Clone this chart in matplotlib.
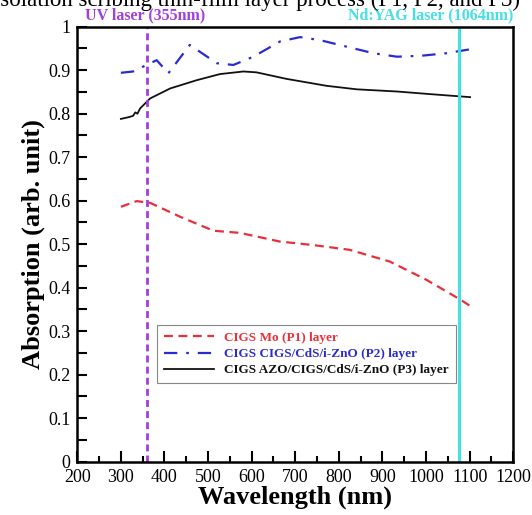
import matplotlib
matplotlib.use("Agg")
import matplotlib.pyplot as plt
from matplotlib.ticker import MultipleLocator, FuncFormatter

plt.rcParams['font.family'] = ['Liberation Serif', 'DejaVu Serif']

# Absorption spectra
wl_p1 = [300, 336, 367, 436, 512, 573, 665, 741, 825, 917, 1001, 1078, 1101]
abs_p1 = [0.586, 0.599, 0.595, 0.563, 0.531, 0.526, 0.506, 0.498, 0.487, 0.460, 0.418, 0.373, 0.358]

wl_p2 = [300, 328, 359, 382, 409, 458, 520, 558, 604, 665, 711, 757, 818, 879, 933, 987, 1047, 1101]
abs_p2 = [0.894, 0.897, 0.912, 0.923, 0.893, 0.958, 0.916, 0.912, 0.931, 0.966, 0.976, 0.969,
          0.954, 0.939, 0.931, 0.933, 0.939, 0.948]

wl_p3 = [300, 318, 328, 333, 338, 344, 367, 413, 474, 527, 581, 611, 680, 772, 841, 933, 1009, 1101]
abs_p3 = [0.788, 0.792, 0.795, 0.803, 0.800, 0.812, 0.835, 0.858, 0.877, 0.891, 0.897, 0.895, 0.880,
          0.864, 0.856, 0.851, 0.845, 0.838]

labels = ["CIGS Mo (P1) layer",
          "CIGS CIGS/CdS/i-ZnO (P2) layer",
          "CIGS AZO/CIGS/CdS/i-ZnO (P3) layer"]
colors = ["#e8303a", "#2b2bd0", "#111111"]

uv_line = 361
yag_line = 1076

fig = plt.figure(figsize=(5.32, 5.15), dpi=100)
ax = fig.add_axes([0.1453, 0.1035, 0.8195, 0.8447])

l1, = ax.plot(wl_p1, abs_p1, color=colors[0], lw=1.6, label=labels[0])
l1.set_dashes([4, 2.5])
l2, = ax.plot(wl_p2, abs_p2, color=colors[1], lw=1.6, label=labels[1])
l2.set_dashes([6, 4, 1.2, 4])
ax.plot(wl_p3, abs_p3, color=colors[2], lw=1.3, label=labels[2])

uv = ax.axvline(uv_line, color="#a23ee0", lw=2.0)
uv.set_dashes([2.5, 1.5])
ax.axvline(yag_line, color="#45e0e6", lw=2.2)

ax.set_xlim(200, 1200)
ax.set_ylim(0, 1)
ax.xaxis.set_major_locator(MultipleLocator(100))
ax.xaxis.set_minor_locator(MultipleLocator(50))
ax.yaxis.set_major_locator(MultipleLocator(0.1))
ax.yaxis.set_minor_locator(MultipleLocator(0.05))
ax.yaxis.set_major_formatter(FuncFormatter(lambda v, p: f"{v:g}"))

ax.tick_params(axis='x', which='major', direction='in', length=8, width=1.5, labelsize=13, pad=5)
ax.tick_params(axis='x', which='minor', direction='in', length=4.5, width=1.5)
ax.tick_params(axis='y', which='both', direction='in', length=7, width=1.5, labelsize=13, pad=5)
for s in ax.spines.values():
    s.set_linewidth(1.8)

ax.set_xlabel("Wavelength (nm)", fontsize=19, fontweight='bold', labelpad=0)
ax.set_ylabel("Absorption (arb. unit)", fontsize=19, fontweight='bold', labelpad=2)

ax.text(uv_line - 5, 1.008, "UV laser (355nm)", color="#a23ee0", fontsize=11.5,
        fontweight='bold', ha='center', va='bottom')
ax.text(1200, 1.008, "Nd:YAG laser (1064nm)", color="#45e0e6", fontsize=11.5,
        fontweight='bold', ha='right', va='bottom')

fig.text(-0.012, 1 - 6 / 515, "isolation scribing thin-film layer process (P1, P2, and P3)",
         fontsize=16.5, ha='left', va='baseline')

leg = ax.legend(loc='lower left', bbox_to_anchor=(0.183, 0.181), borderaxespad=0,
                fancybox=False, edgecolor='#888888', framealpha=1, handlelength=3.8,
                prop={'weight': 'bold', 'size': 9.5}, labelspacing=0.3, borderpad=0.5)
leg.get_frame().set_linewidth(0.8)
for t, c in zip(leg.get_texts(), colors):
    t.set_color(c)

fig.savefig("out.png", dpi=100)
